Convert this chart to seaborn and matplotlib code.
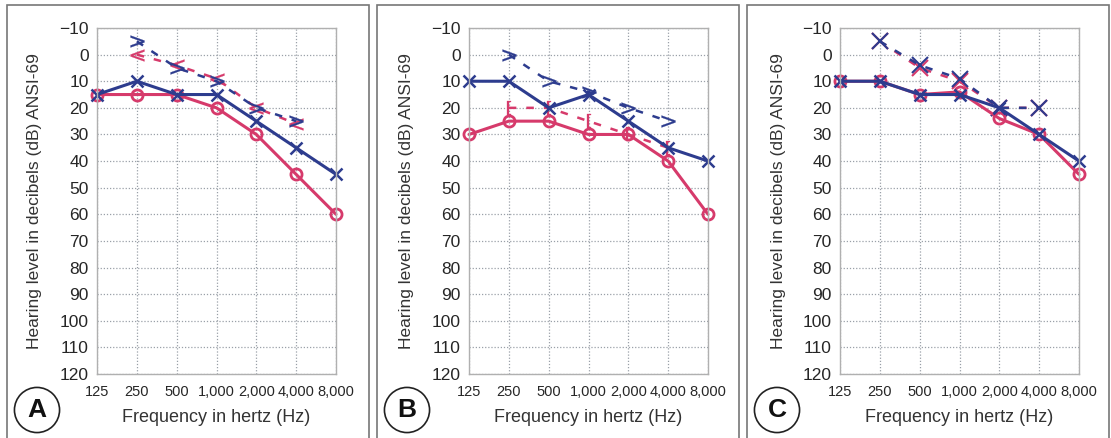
import matplotlib
matplotlib.use("Agg")
import matplotlib.pyplot as plt
import seaborn as sns
import numpy as np
from matplotlib.patches import Rectangle

sns.set_style("white")
plt.rcParams["font.family"] = ["Liberation Sans", "DejaVu Sans"]

RED = "#d63a6b"
BLUE = "#2d3c8e"

freqs = [125, 250, 500, 1000, 2000, 4000, 8000]
freq_labels = ["125", "250", "500", "1,000", "2,000", "4,000", "8,000"]
bc_freqs = [250, 500, 1000, 2000, 4000]

# Panel A
a_right_ac = [15, 15, 15, 20, 30, 45, 60]
a_left_ac = [15, 10, 15, 15, 25, 35, 45]
a_right_bc = [0, 4, 9, 20, 26]
a_left_bc = [-5, 5, 10, 20, 25]

# Panel B
b_right_ac = [30, 25, 25, 30, 30, 40, 60]
b_left_ac = [10, 10, 20, 15, 25, 35, 40]
b_right_bc = [20, 20, 25, 30, 35]
b_left_bc = [0, 10, 14, 20, 25]

# Panel C
c_right_ac = [10, 10, 15, 14, 24, 30, 45]
c_left_ac = [10, 10, 15, 15, 20, 30, 40]
c_right_bc = [-5, 5, 10, 20, 20]
c_left_bc = [-5, 4, 9, 20, 20]

panels = [
    ("A", a_right_ac, a_left_ac, a_right_bc, a_left_bc, "$<$", "$>$"),
    ("B", b_right_ac, b_left_ac, b_right_bc, b_left_bc, "$[$", "$>$"),
    ("C", c_right_ac, c_left_ac, c_right_bc, c_left_bc, "x", "x"),
]

fig = plt.figure(figsize=(11.11, 4.38), dpi=100)
W, H = 1111, 438
lefts = [97, 469, 840]
boxes = [7, 377, 747]


def bc_style(m):
    # text markers need a thin outline, plain 'x' a thicker one
    if m.startswith("$"):
        return dict(marker=m, markersize=10, markeredgewidth=0.2)
    return dict(marker=m, markersize=11, markeredgewidth=1.5)


for i, (name, r_ac, l_ac, r_bc, l_bc, r_m, l_m) in enumerate(panels):
    # panel frame
    fig.patches.append(Rectangle((boxes[i] / W, -0.05), 362 / W, (438 - 5) / H + 0.05,
                                 transform=fig.transFigure, fill=False,
                                 edgecolor="#777777", linewidth=1.2))
    ax = fig.add_axes([lefts[i] / W, (438 - 374) / H, 239 / W, 346 / H])
    ax.set_xscale("log", base=2)

    sns.lineplot(x=bc_freqs, y=r_bc, ax=ax, color=RED, linestyle=(0, (3, 4)),
                 linewidth=1.8, markeredgecolor=RED, markerfacecolor=RED,
                 clip_on=False, **bc_style(r_m))
    sns.lineplot(x=bc_freqs, y=l_bc, ax=ax, color=BLUE, linestyle=(0, (3, 4)),
                 linewidth=1.8, markeredgecolor=BLUE, markerfacecolor=BLUE,
                 clip_on=False, **bc_style(l_m))
    sns.lineplot(x=freqs, y=r_ac, ax=ax, color=RED, linewidth=2.2, marker="o",
                 markersize=8, markerfacecolor="none", markeredgewidth=2,
                 markeredgecolor=RED, clip_on=False)
    sns.lineplot(x=freqs, y=l_ac, ax=ax, color=BLUE, linewidth=2.2, marker="x",
                 markersize=9, markeredgewidth=1.8, markeredgecolor=BLUE,
                 clip_on=False)

    ax.set_xlim(125, 8000)
    ax.set_ylim(120, -10)
    ax.set_yticks(np.arange(-10, 121, 10))
    ax.set_xticks(freqs)
    ax.set_xticklabels(freq_labels, fontsize=10.5)
    ax.xaxis.set_minor_locator(matplotlib.ticker.NullLocator())
    ax.tick_params(axis="y", labelsize=12.5, length=0, pad=6)
    ax.tick_params(axis="x", length=0, pad=8)
    ax.grid(True, color="#9aa0a8", linestyle=(0, (1, 1.5)), linewidth=0.9)
    for s in ax.spines.values():
        s.set_color("#b0b0b0")
        s.set_linewidth(1)
    ax.set_ylabel("Hearing level in decibels (dB) ANSI-69", fontsize=12.5,
                  color="#333333", labelpad=12)
    ax.set_xlabel("Frequency in hertz (Hz)", fontsize=13, color="#333333",
                  labelpad=7)

    # circled panel letter
    cx, cy = boxes[i] + 30, 410
    fig.text(cx / W, (438 - cy) / H, name, ha="center", va="center",
             fontsize=19, fontweight="bold", color="#111111",
             bbox=dict(boxstyle="circle,pad=0.4", fc="white", ec="#222222",
                       lw=1.2))

fig.savefig("out.png", dpi=100)
